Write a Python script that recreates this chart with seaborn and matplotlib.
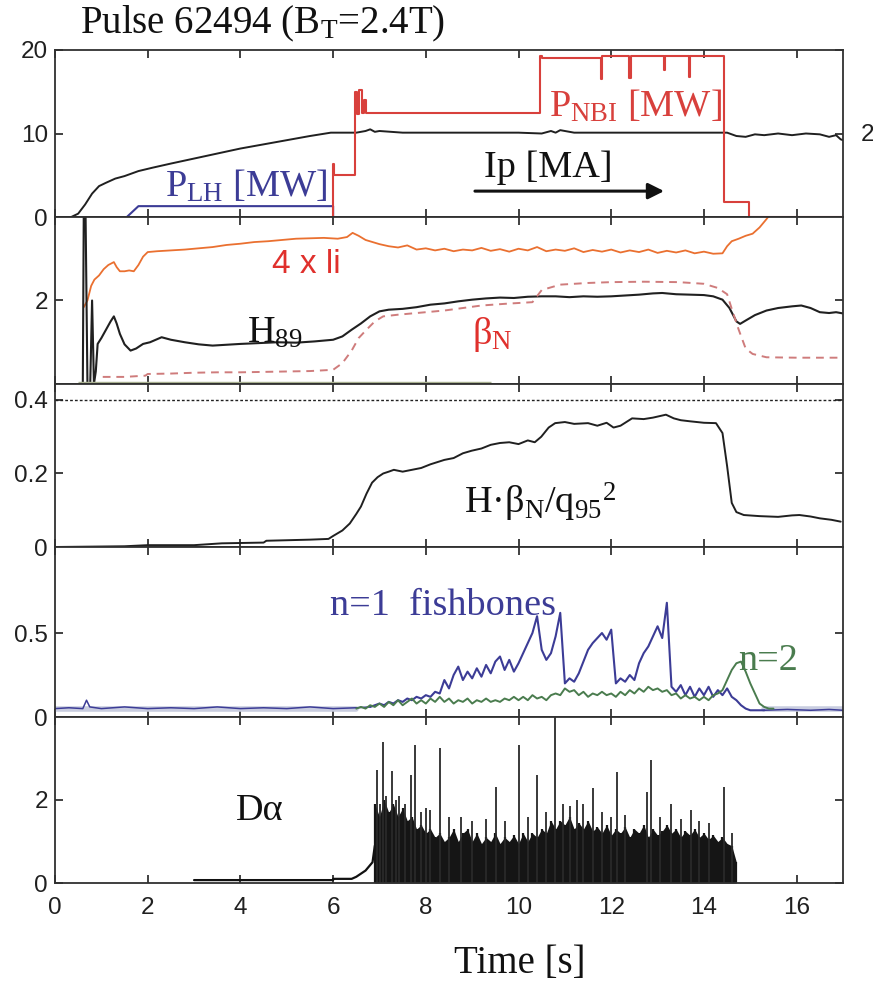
import numpy as np
import matplotlib
matplotlib.use("Agg")
import matplotlib.pyplot as plt
import seaborn as sns

# ---------------------------------------------------------------- data
# Plasma current trace (left-axis units, 10 <-> 2 MA)
ip_tv = np.array([
    (0.00, 0.0), (0.35, 0.0), (0.50, 0.4), (0.65, 1.5), (0.80, 2.8), (0.95, 3.7),
    (1.10, 4.1), (1.30, 4.6), (1.50, 4.9), (1.80, 5.5), (2.10, 5.9), (2.50, 6.4),
    (3.00, 7.0), (3.50, 7.6), (4.00, 8.2), (4.50, 8.7), (5.00, 9.2), (5.50, 9.7),
    (5.95, 10.1), (6.20, 10.1), (6.50, 10.1), (6.70, 10.3), (6.80, 10.5), (6.90, 10.2),
    (7.00, 10.3), (7.50, 10.1), (8.00, 10.1), (9.00, 10.1), (10.00, 10.1), (10.50, 10.0),
    (10.70, 10.3), (10.80, 10.1), (10.90, 10.4), (11.20, 10.1), (12.00, 10.1), (13.00, 10.1),
    (14.00, 10.1), (14.50, 10.1), (14.70, 9.7), (14.90, 9.6), (15.10, 9.9), (15.30, 9.8),
    (15.60, 10.0), (15.90, 9.8), (16.20, 10.0), (16.50, 9.9), (16.70, 9.6), (16.85, 9.8),
    (16.95, 9.3), (17.00, 9.2)])

# Lower-hybrid power [MW]
plh_tv = np.array([(1.55, 0.0), (1.80, 1.3), (6.00, 1.3), (6.00, 0.0)])

# Neutral-beam power [MW], piecewise constant (value holds until next time)
nbi_t = [5.99, 6.00, 6.02, 6.48, 6.52, 6.56, 6.62, 6.66, 6.72, 10.47, 10.50,
         11.77, 11.81, 12.38, 12.42, 13.13, 13.17, 13.67, 13.71, 14.44, 14.98, 17.0]
nbi_v = [0.0, 6.4, 5.0, 15.0, 12.3, 15.2, 12.5, 14.0, 12.5, 19.3, 19.0,
         16.5, 19.3, 16.7, 19.3, 17.6, 19.3, 16.8, 19.3, 1.8, 0.0, 0.0]

# 4 x internal inductance
li4_tv = np.array([
    (0.62, 1.84), (0.70, 2.00), (0.78, 2.35), (0.85, 2.50), (0.95, 2.60), (1.05, 2.75),
    (1.15, 2.85), (1.27, 2.92), (1.33, 2.80), (1.40, 2.70), (1.50, 2.70), (1.60, 2.72),
    (1.70, 2.70), (1.80, 2.85), (1.90, 3.05), (2.00, 3.16), (2.20, 3.18), (2.50, 3.20),
    (2.80, 3.22), (3.10, 3.25), (3.40, 3.28), (3.70, 3.33), (4.00, 3.36), (4.30, 3.40),
    (4.60, 3.42), (4.90, 3.45), (5.20, 3.48), (5.50, 3.49), (5.80, 3.50), (6.10, 3.48),
    (6.30, 3.52), (6.42, 3.62), (6.55, 3.55), (6.70, 3.45), (6.85, 3.40), (7.00, 3.35),
    (7.20, 3.30), (7.40, 3.27), (7.60, 3.32), (7.80, 3.22), (8.00, 3.25), (8.20, 3.20),
    (8.40, 3.24), (8.60, 3.18), (8.80, 3.22), (9.00, 3.20), (9.20, 3.26), (9.40, 3.19),
    (9.60, 3.23), (9.80, 3.17), (10.00, 3.24), (10.20, 3.20), (10.40, 3.28), (10.60, 3.18),
    (10.80, 3.22), (11.00, 3.19), (11.20, 3.25), (11.40, 3.16), (11.60, 3.21), (11.80, 3.17),
    (12.00, 3.22), (12.20, 3.15), (12.40, 3.20), (12.60, 3.16), (12.80, 3.22), (13.00, 3.14),
    (13.20, 3.19), (13.40, 3.15), (13.60, 3.20), (13.80, 3.13), (14.00, 3.17), (14.20, 3.12),
    (14.40, 3.13), (14.50, 3.30), (14.60, 3.42), (14.75, 3.48), (14.90, 3.55), (15.05, 3.60),
    (15.20, 3.75), (15.35, 3.95), (15.45, 4.10)])

# H89 confinement factor
h89_tv = np.array([
    (0.60, 0.0), (0.62, 4.0), (0.66, 4.0), (0.70, 0.0), (0.76, 0.0), (0.80, 2.0),
    (0.84, 0.0), (0.88, 0.3), (0.92, 0.96), (1.00, 1.10), (1.10, 1.30), (1.20, 1.50),
    (1.27, 1.62), (1.33, 1.45), (1.40, 1.20), (1.50, 0.95), (1.63, 0.80), (1.75, 0.85),
    (1.90, 0.96), (2.05, 1.00), (2.30, 1.12), (2.50, 1.06), (2.80, 1.00), (3.10, 0.95),
    (3.40, 0.92), (3.70, 0.94), (4.00, 0.96), (4.40, 0.98), (4.80, 1.00), (5.20, 0.99),
    (5.60, 1.02), (6.00, 1.06), (6.20, 1.14), (6.40, 1.30), (6.60, 1.45), (6.80, 1.62),
    (7.00, 1.74), (7.20, 1.78), (7.50, 1.80), (7.80, 1.84), (8.10, 1.90), (8.40, 1.93),
    (8.70, 1.98), (9.00, 2.02), (9.30, 2.05), (9.60, 2.07), (9.90, 2.06), (10.20, 2.09),
    (10.50, 2.10), (10.80, 2.10), (11.10, 2.08), (11.40, 2.10), (11.70, 2.09), (12.00, 2.10),
    (12.30, 2.12), (12.60, 2.14), (12.90, 2.17), (13.10, 2.18), (13.40, 2.15), (13.70, 2.14),
    (14.00, 2.13), (14.20, 2.10), (14.40, 2.02), (14.55, 1.82), (14.70, 1.50), (14.78, 1.44),
    (14.90, 1.52), (15.10, 1.65), (15.35, 1.76), (15.60, 1.82), (15.90, 1.86), (16.10, 1.88),
    (16.30, 1.82), (16.50, 1.72), (16.70, 1.70), (16.85, 1.72), (17.00, 1.69)])

# Normalised beta
betan_tv = np.array([
    (1.03, 0.17), (1.50, 0.17), (1.95, 0.20), (2.00, 0.24), (2.50, 0.25), (3.00, 0.27),
    (3.50, 0.28), (4.00, 0.28), (4.50, 0.29), (5.00, 0.30), (5.50, 0.31), (6.00, 0.34),
    (6.20, 0.50), (6.40, 0.80), (6.55, 1.10), (6.72, 1.30), (6.90, 1.50), (7.08, 1.62),
    (7.40, 1.66), (7.80, 1.70), (8.40, 1.76), (8.80, 1.82), (9.20, 1.88), (9.70, 1.92),
    (10.30, 1.96), (10.50, 2.25), (10.90, 2.38), (11.50, 2.42), (12.00, 2.44), (12.70, 2.45),
    (13.45, 2.44), (14.00, 2.40), (14.30, 2.30), (14.50, 2.15), (14.60, 1.80), (14.75, 1.30),
    (14.90, 0.85), (15.05, 0.72), (15.35, 0.64), (16.00, 0.63), (17.00, 0.63)])

# Figure of merit H*betaN/q95^2
fom_tv = np.array([
    (0.00, 0.000), (1.50, 0.002), (2.00, 0.005), (3.00, 0.005), (3.60, 0.010), (4.50, 0.012),
    (4.56, 0.017), (5.50, 0.020), (5.90, 0.022), (6.00, 0.030), (6.20, 0.045), (6.36, 0.064),
    (6.50, 0.090), (6.60, 0.110), (6.72, 0.145), (6.84, 0.175), (6.96, 0.190), (7.08, 0.200),
    (7.20, 0.205), (7.31, 0.210), (7.50, 0.205), (7.70, 0.210), (7.90, 0.215), (8.10, 0.225),
    (8.40, 0.237), (8.60, 0.242), (8.80, 0.255), (8.99, 0.262), (9.20, 0.268), (9.40, 0.278),
    (9.60, 0.283), (9.80, 0.285), (10.00, 0.280), (10.20, 0.290), (10.35, 0.285), (10.49, 0.300),
    (10.65, 0.325), (10.79, 0.337), (11.00, 0.340), (11.20, 0.335), (11.50, 0.337), (11.70, 0.330),
    (11.90, 0.338), (12.05, 0.325), (12.20, 0.330), (12.45, 0.350), (12.70, 0.348), (12.90, 0.352),
    (13.18, 0.360), (13.35, 0.350), (13.50, 0.345), (13.70, 0.342), (14.00, 0.338), (14.26, 0.337),
    (14.40, 0.310), (14.50, 0.220), (14.60, 0.120), (14.70, 0.095), (14.86, 0.087), (15.20, 0.084),
    (15.60, 0.082), (15.90, 0.086), (16.06, 0.087), (16.30, 0.083), (16.50, 0.078), (16.75, 0.074),
    (16.95, 0.069)])

# n=1 fishbone amplitude: quiet phase, active phase (0.1 s samples), decay
n1_quiet = np.array([
    (0.00, 0.050), (0.30, 0.055), (0.60, 0.050), (0.68, 0.100), (0.75, 0.060), (1.00, 0.050),
    (1.50, 0.060), (2.00, 0.050), (2.50, 0.055), (3.00, 0.050), (3.50, 0.060), (4.00, 0.050),
    (4.50, 0.055), (5.00, 0.050), (5.50, 0.060), (6.00, 0.050), (6.50, 0.055), (6.80, 0.060)])
n1_active_span = (6.8, 15.3)
n1_active = [
    0.06, 0.07, 0.08, 0.07, 0.09, 0.08, 0.10, 0.09, 0.11, 0.10, 0.12, 0.11, 0.13, 0.12, 0.15, 0.14,
    0.22, 0.17, 0.25, 0.30, 0.22, 0.27, 0.23, 0.29, 0.24, 0.31, 0.26, 0.33, 0.36, 0.28, 0.34, 0.27,
    0.32, 0.38, 0.44, 0.50, 0.60, 0.40, 0.34, 0.38, 0.48, 0.62, 0.20, 0.23, 0.21, 0.26, 0.33, 0.40,
    0.44, 0.47, 0.50, 0.46, 0.52, 0.20, 0.23, 0.21, 0.25, 0.22, 0.32, 0.38, 0.42, 0.48, 0.54, 0.47,
    0.68, 0.18, 0.15, 0.19, 0.13, 0.18, 0.12, 0.17, 0.13, 0.18, 0.12, 0.16, 0.13, 0.17, 0.12, 0.10,
    0.07, 0.05, 0.04, 0.04, 0.04, 0.04]
n1_tail = np.array([(15.3, 0.040), (15.8, 0.045), (16.3, 0.040), (16.7, 0.045), (17.0, 0.040)])

# n=2 mode amplitude (0.1 s samples)
n2_span = (6.5, 15.5)
n2_vals = [
    0.05, 0.06, 0.05, 0.07, 0.06, 0.08, 0.06, 0.09, 0.07, 0.10, 0.07, 0.09, 0.11, 0.08, 0.10, 0.08,
    0.11, 0.09, 0.12, 0.09, 0.11, 0.08, 0.10, 0.09, 0.11, 0.08, 0.10, 0.09, 0.11, 0.09, 0.10, 0.09,
    0.11, 0.10, 0.12, 0.10, 0.12, 0.10, 0.13, 0.11, 0.12, 0.10, 0.13, 0.14, 0.13, 0.17, 0.15, 0.16,
    0.13, 0.15, 0.12, 0.14, 0.13, 0.15, 0.13, 0.14, 0.12, 0.15, 0.13, 0.16, 0.14, 0.17, 0.15, 0.18,
    0.16, 0.17, 0.15, 0.16, 0.13, 0.14, 0.11, 0.13, 0.11, 0.12, 0.10, 0.12, 0.10, 0.13, 0.14, 0.16,
    0.22, 0.28, 0.32, 0.33, 0.27, 0.20, 0.14, 0.08, 0.06, 0.05, 0.05]

# D-alpha: pre-ELM baseline, ELMy envelope (0.1 s samples), large ELM spikes
da_base = np.array([(3.0, 0.07), (6.0, 0.07), (6.0, 0.10), (6.4, 0.10), (6.5, 0.15),
                    (6.7, 0.30), (6.85, 0.50), (6.9, 0.9)])
da_env_span = (6.9, 14.7)
da_env = [
    1.9, 1.6, 2.0, 1.7, 1.9, 1.6, 1.8, 1.5, 1.6, 1.3, 1.4, 1.2, 1.3, 1.1, 1.2, 1.0,
    1.1, 1.3, 1.0, 1.2, 1.3, 1.0, 1.2, 0.95, 1.1, 1.0, 1.2, 0.95, 1.1, 1.0, 1.15, 0.95,
    1.2, 1.0, 1.2, 1.1, 1.3, 1.2, 1.5, 1.3, 1.5, 1.4, 1.6, 1.3, 1.45, 1.3, 1.5, 1.25,
    1.35, 1.2, 1.4, 1.15, 1.3, 1.2, 1.35, 1.1, 1.3, 1.2, 1.4, 1.1, 1.3, 1.15, 1.25, 1.4,
    1.2, 1.3, 1.1, 1.25, 1.15, 1.3, 1.1, 1.2, 1.05, 1.15, 1.0, 1.1, 0.95, 0.9, 0.5]
da_spikes = np.array([
    (6.95, 2.72), (7.02, 1.90), (7.08, 3.40), (7.15, 2.10), (7.28, 2.70), (7.35, 2.00),
    (7.43, 2.10), (7.55, 1.90), (7.67, 2.60), (7.77, 3.33), (7.90, 1.70), (8.00, 1.80),
    (8.10, 1.75), (8.31, 3.25), (8.50, 1.60), (8.75, 1.60), (9.00, 1.50), (9.30, 1.55),
    (9.51, 2.32), (9.70, 1.50), (10.01, 3.33), (10.20, 1.60), (10.40, 2.60), (10.60, 1.70),
    (10.79, 4.00), (10.95, 1.90), (11.10, 1.85), (11.27, 2.00), (11.40, 1.90), (11.60, 2.30),
    (11.80, 1.70), (12.00, 1.60), (12.13, 2.68), (12.30, 1.65), (12.77, 2.20), (12.85, 2.96),
    (13.05, 1.60), (13.30, 1.90), (13.50, 1.55), (13.73, 1.75), (13.90, 1.50), (14.10, 1.45),
    (14.44, 2.32), (14.60, 1.20)])

x_ticks = [0, 2, 4, 6, 8, 10, 12, 14, 16]

# ---------------------------------------------------------------- style
sns.set_theme(style="ticks")
plt.rcParams["font.family"] = ["Liberation Sans", "DejaVu Sans"]
plt.rcParams["mathtext.fontset"] = "custom"
plt.rcParams["mathtext.rm"] = "Liberation Serif"
plt.rcParams["mathtext.it"] = "Liberation Serif:italic"
plt.rcParams["axes.linewidth"] = 1.3
plt.rcParams["axes.edgecolor"] = "#303030"

SERIF = ["Liberation Serif", "DejaVu Serif"]
LABEL_FS = 27.5
TICK_FS = 17.5
RED = "#d8403c"
BLUE = "#3c3c96"
GREEN = "#4a7c4e"
ORANGE = "#ea7030"
PINK = "#cf7c7c"
INK = "#111111"

W, H = 873, 983
fig = plt.figure(figsize=(W / 100, H / 100), dpi=100)

x_left, x_right = 55, 843
panel_px = [(50, 217), (217, 384), (384, 547), (547, 717), (717, 883)]
axes = []
for top, bot in panel_px:
    ax = fig.add_axes([x_left / W, 1 - bot / H, (x_right - x_left) / W, (bot - top) / H])
    axes.append(ax)
ax1, ax2, ax3, ax4, ax5 = axes


def line(ax, tv, **kw):
    sns.lineplot(x=tv[:, 0], y=tv[:, 1], ax=ax, estimator=None, sort=False,
                 legend=False, **kw)


# ---- panel 1: Ip, P_LH, P_NBI
line(ax1, ip_tv, color="#202020", lw=1.4)
line(ax1, plh_tv, color=BLUE, lw=1.5)
sns.lineplot(x=nbi_t, y=nbi_v, ax=ax1, estimator=None, sort=False, legend=False,
             color=RED, lw=1.5, drawstyle="steps-post")
ax1.text(2.37, 2.4, r"P$_{\rm LH}$ [MW]", color=BLUE, fontsize=LABEL_FS, family=SERIF)
ax1.text(10.65, 12.0, r"P$_{\rm NBI}$ [MW]", color=RED, fontsize=LABEL_FS, family=SERIF)
ax1.text(9.25, 4.8, "Ip [MA]", color=INK, fontsize=LABEL_FS, family=SERIF)
ax1.annotate("", xy=(13.2, 3.1), xytext=(9.0, 3.1),
             arrowprops=dict(arrowstyle="-|>", color=INK, lw=2.2, mutation_scale=24))
ax1.set_ylim(0, 20)
ax1.set_yticks([0, 10, 20])
ax1.set_yticklabels(["0", "10", "20"])

# ---- panel 2: 4*li, H89, betaN
line(ax2, li4_tv, color=ORANGE, lw=1.3)
line(ax2, h89_tv, color="#202020", lw=1.5)
line(ax2, betan_tv, color=PINK, lw=1.4, linestyle=(0, (4, 3)))
ax2.hlines(0.05, 0.5, 9.4, color="#a8b090", lw=1.0)
ax2.text(4.69, 2.65, "4 x li", color="#e0302c", fontsize=24)
ax2.text(4.15, 0.99, r"H$_{\rm 89}$", color=INK, fontsize=LABEL_FS, family=SERIF)
ax2.text(8.99, 0.96, r"β$_{\rm N}$", color="#e0302c", fontsize=LABEL_FS, family=SERIF)
ax2.set_ylim(0, 4)
ax2.set_yticks([2])
ax2.set_yticklabels(["2"])

# ---- panel 3: H*betaN/q95^2
line(ax3, fom_tv, color="#202020", lw=1.4)
ax3.axhline(0.4, color="#202020", lw=1.0, linestyle=(0, (2, 1.5)))
ax3.text(8.82, 0.0925, r"H·β$_{\rm N}$/q$_{\rm 95}$$^{\rm 2}$", color=INK,
         fontsize=LABEL_FS, family=SERIF)
ax3.set_ylim(0, 0.4435)
ax3.set_yticks([0, 0.2, 0.4])
ax3.set_yticklabels(["0", "0.2", "0.4"])

# ---- panel 4: MHD activity
n1_t = np.linspace(*n1_active_span, len(n1_active))
n2_t = np.linspace(*n2_span, len(n2_vals))
line(ax4, np.array([(0.0, 0.05), (6.5, 0.05)]), color="#c9cde0", lw=4)
line(ax4, np.array([(15.3, 0.045), (17.0, 0.045)]), color="#c9cde0", lw=4)
line(ax4, n1_quiet, color=BLUE, lw=1.1)
sns.lineplot(x=n1_t, y=n1_active, ax=ax4, estimator=None, sort=False, legend=False,
             color=BLUE, lw=1.5)
line(ax4, n1_tail, color=BLUE, lw=1.1)
sns.lineplot(x=n2_t, y=n2_vals, ax=ax4, estimator=None, sort=False, legend=False,
             color=GREEN, lw=1.4)
ax4.text(5.94, 0.607, "n=1  fishbones", color=BLUE, fontsize=LABEL_FS, family=SERIF)
ax4.text(14.74, 0.28, "n=2", color=GREEN, fontsize=LABEL_FS, family=SERIF)
ax4.set_ylim(0, 1.012)
ax4.set_yticks([0, 0.5])
ax4.set_yticklabels(["0", "0.5"])

# ---- panel 5: D-alpha
da_t = np.linspace(*da_env_span, len(da_env))
line(ax5, da_base, color=INK, lw=1.6)
ax5.fill_between(da_t, 0, da_env, color="#151515", lw=0)
ax5.vlines(da_t, 0, da_env, color="#151515", lw=1.6)
ax5.vlines(da_spikes[:, 0], 0, da_spikes[:, 1], color="#2a2a2a", lw=1.3)
ax5.text(3.9, 1.52, "Dα", color=INK, fontsize=LABEL_FS, family=SERIF)
ax5.set_ylim(0, 4)
ax5.set_yticks([0, 2])
ax5.set_yticklabels(["0", "2"])

# ---- common axis formatting
for ax in axes:
    ax.set_xlim(0, 17)
    ax.set_xticks(x_ticks)
    ax.tick_params(direction="in", top=True, right=True, length=6, width=1.2,
                   labelsize=TICK_FS, colors="#202020")
    ax.tick_params(axis="y", pad=5)
    ax.tick_params(axis="x", pad=10)
    ax.set_xlabel("")
    ax.set_ylabel("")
    for s in ax.spines.values():
        s.set_visible(True)
    if ax is not ax5:
        ax.tick_params(labelbottom=False)
ax5.set_xticklabels([str(v) for v in x_ticks])

fig.text(80 / W, 1 - 33 / H, r"Pulse 62494 (B$_{\rm T}$=2.4T)", fontsize=28,
         family=SERIF, ha="left", va="baseline", color=INK)
fig.text(454 / W, 1 - 973 / H, "Time [s]", fontsize=28, family=SERIF,
         ha="left", va="baseline", color=INK)
fig.text(861 / W, 1 - 135 / H, "2", fontsize=TICK_FS, ha="left", va="center", color="#202020")

fig.savefig("out.png", dpi=100)
